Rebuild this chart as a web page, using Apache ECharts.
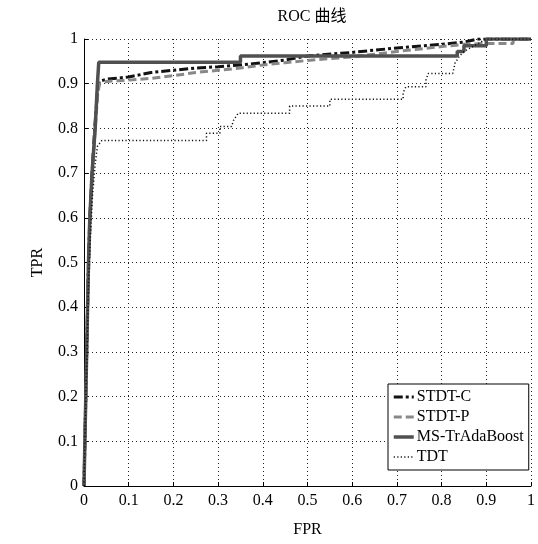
<!DOCTYPE html>
<html>
<head>
<meta charset="utf-8">
<script src="https://cdn.jsdelivr.net/npm/echarts@6/dist/echarts.min.js"></script>
<style>html,body{margin:0;padding:0;background:#fff;}#c{width:538px;height:544px;}</style>
</head>
<body>
<div id="c"></div>
<script>
var seriesNames = ['STDT-C', 'STDT-P', 'MS-TrAdaBoost', 'TDT'];
var xTicks = ['0','0.1','0.2','0.3','0.4','0.5','0.6','0.7','0.8','0.9','1'];
var yTicks = ['0','0.1','0.2','0.3','0.4','0.5','0.6','0.7','0.8','0.9','1'];

var stdtcFPR = [0, 0.002, 0.004, 0.006, 0.008, 0.01, 0.013, 0.018, 0.024, 0.03, 0.034, 0.05, 0.1, 0.15, 0.2, 0.25, 0.3, 0.35, 0.4, 0.45, 0.5, 0.6, 0.7, 0.8, 0.85, 0.88, 1];
var stdtcTPR = [0, 0.1, 0.2, 0.3, 0.4, 0.5, 0.6, 0.7, 0.8, 0.88, 0.905, 0.91, 0.915, 0.925, 0.93, 0.935, 0.938, 0.942, 0.947, 0.953, 0.962, 0.97, 0.98, 0.988, 0.993, 1, 1];

var stdtpFPR = [0, 0.002, 0.004, 0.006, 0.008, 0.011, 0.014, 0.019, 0.025, 0.031, 0.035, 0.05, 0.1, 0.15, 0.2, 0.25, 0.3, 0.35, 0.4, 0.45, 0.5, 0.6, 0.7, 0.8, 0.85, 0.9, 0.96, 0.96, 1];
var stdtpTPR = [0, 0.1, 0.2, 0.3, 0.4, 0.5, 0.6, 0.7, 0.8, 0.88, 0.9, 0.905, 0.908, 0.912, 0.918, 0.925, 0.93, 0.935, 0.942, 0.947, 0.952, 0.96, 0.972, 0.983, 0.988, 0.99, 0.99, 1, 1];

var msFPR = [0, 0.002, 0.004, 0.006, 0.008, 0.01, 0.013, 0.018, 0.025, 0.03, 0.033, 0.35, 0.35, 0.835, 0.835, 0.85, 0.85, 0.9, 0.9, 1];
var msTPR = [0, 0.1, 0.2, 0.3, 0.4, 0.5, 0.6, 0.7, 0.8, 0.9, 0.948, 0.948, 0.962, 0.962, 0.972, 0.972, 0.985, 0.985, 1, 1];

var tdtFPR = [0, 0.002, 0.004, 0.007, 0.01, 0.014, 0.019, 0.025, 0.03, 0.04, 0.274, 0.274, 0.304, 0.304, 0.33, 0.335, 0.345, 0.46, 0.46, 0.55, 0.55, 0.714, 0.714, 0.72, 0.765, 0.765, 0.77, 0.825, 0.83, 0.84, 0.85, 0.9, 1];
var tdtTPR = [0, 0.1, 0.2, 0.3, 0.45, 0.55, 0.65, 0.72, 0.76, 0.773, 0.773, 0.789, 0.789, 0.804, 0.804, 0.819, 0.834, 0.834, 0.85, 0.85, 0.865, 0.865, 0.88, 0.893, 0.893, 0.908, 0.923, 0.923, 0.946, 0.962, 0.972, 1, 1];

function pairs(xs, ys) { return xs.map(function (x, i) { return [x, ys[i]]; }); }

var styles = [
  { color: '#111', width: 3, type: [9, 3, 3, 3] },
  { color: '#888', width: 3, type: [8, 4] },
  { color: '#505050', width: 3.5, type: 'solid' },
  { color: '#111', width: 1.5, type: [1.2, 2.3] }
];

var serif = '"Liberation Serif", "Times New Roman", "Noto Sans CJK SC", serif';
var chart = echarts.init(document.getElementById('c'), null, { renderer: 'canvas' });
chart.setOption({
  animation: false,
  backgroundColor: '#fff',
  title: {
    text: 'ROC 曲线',
    left: 307, top: 4, textAlign: 'center',
    textStyle: { fontFamily: serif, fontSize: 16, fontWeight: 'normal', color: '#000' }
  },
  grid: { left: 84, right: 7, top: 39, bottom: 58, containLabel: false },
  legend: {
    data: seriesNames.map(function (n, i) {
      return { name: n, itemStyle: { opacity: 0 }, lineStyle: { color: styles[i].color, width: styles[i].width, type: styles[i].type } };
    }),
    orient: 'vertical',
    left: 388, top: 384,
    backgroundColor: '#fff',
    borderColor: '#000', borderWidth: 1, borderRadius: 0,
    padding: [5, 5, 5, 4],
    itemWidth: 20, itemHeight: 14, itemGap: 4,
    itemStyle: { opacity: 0 },
    textStyle: { fontFamily: serif, fontSize: 16, color: '#000', padding: [0, 0, 0, -2] }
  },
  xAxis: {
    type: 'value', min: 0, max: 1, interval: 0.1,
    name: 'FPR', nameLocation: 'middle', nameGap: 36,
    nameTextStyle: { fontFamily: serif, fontSize: 16, color: '#000' },
    axisLine: { show: true, lineStyle: { color: '#000', width: 1 } },
    axisTick: { show: true, inside: true, length: 4, lineStyle: { color: '#000' } },
    axisLabel: { fontFamily: serif, fontSize: 16, color: '#000', margin: 7,
      formatter: function (v) { return xTicks[Math.round(v * 10)]; } },
    splitLine: { show: true, lineStyle: { color: '#222', type: [1, 3], width: 1 } }
  },
  yAxis: {
    type: 'value', min: 0, max: 1, interval: 0.1,
    name: 'TPR', nameLocation: 'middle', nameGap: 38,
    nameTextStyle: { fontFamily: serif, fontSize: 16, color: '#000' },
    axisLine: { show: true, lineStyle: { color: '#000', width: 1 } },
    axisTick: { show: true, inside: true, length: 4, lineStyle: { color: '#000' } },
    axisLabel: { fontFamily: serif, fontSize: 16, color: '#000', margin: 6,
      formatter: function (v) { return yTicks[Math.round(v * 10)]; } },
    splitLine: { show: true, lineStyle: { color: '#222', type: [1, 3], width: 1 } }
  },
  series: seriesNames.map(function (n, i) {
    var xs = [stdtcFPR, stdtpFPR, msFPR, tdtFPR][i];
    var ys = [stdtcTPR, stdtpTPR, msTPR, tdtTPR][i];
    return {
      name: n, type: 'line', showSymbol: false, symbol: 'none', data: pairs(xs, ys),
      itemStyle: { color: styles[i].color },
      lineStyle: { color: styles[i].color, width: styles[i].width, type: styles[i].type }
    };
  })
});
</script>
</body>
</html>
